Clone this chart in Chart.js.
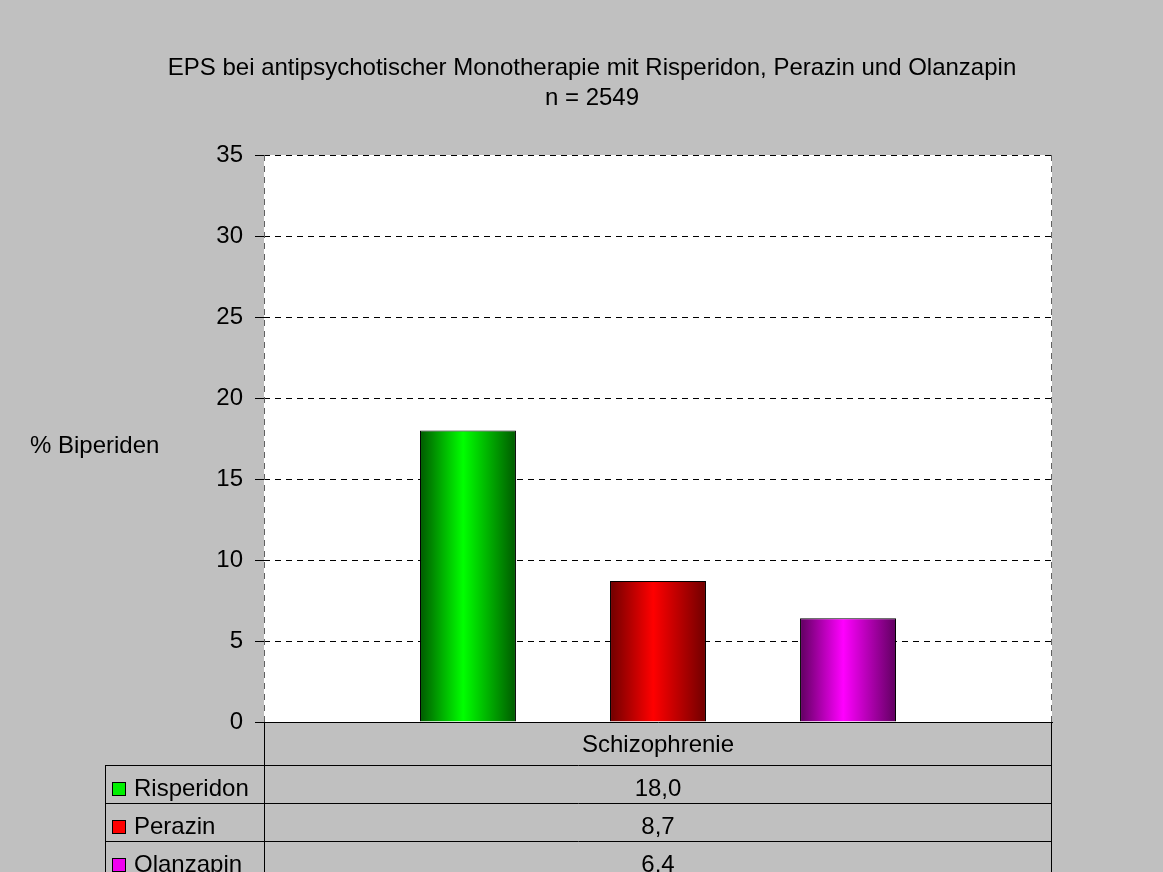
<!DOCTYPE html>
<html>
<head>
<meta charset="utf-8">
<title>EPS bei antipsychotischer Monotherapie</title>
<script src="https://cdn.jsdelivr.net/npm/chart.js@4.4.1/dist/chart.umd.min.js"></script>
<style>
  html, body { margin: 0; padding: 0; background: #c0c0c0; }
  #wrap { width: 1163px; height: 872px; position: relative; }
</style>
</head>
<body>
<div id="wrap"><canvas id="chart" width="1163" height="872"></canvas></div>
<script>
// Data
const titleLines = ['EPS bei antipsychotischer Monotherapie mit Risperidon, Perazin und Olanzapin', 'n = 2549'];
const categories = ['Schizophrenie'];
const seriesNames = ['Risperidon', 'Perazin', 'Olanzapin'];
const risperidon = [18.0];
const perazin = [8.7];
const olanzapin = [6.4];
const yTicks = [0, 5, 10, 15, 20, 25, 30, 35];
const yAxisLabel = '% Biperiden';

// Bar colours: dark edge, bright centre
const palette = [
  { dark: '#005a00', bright: '#00ff00', swatch: '#00f000' },
  { dark: '#700000', bright: '#ff0000', swatch: '#ff0000' },
  { dark: '#600060', bright: '#ff00ff', swatch: '#f000f0' }
];

const FONT = '"Liberation Sans", Arial, sans-serif';
const FONT_SIZE = 24;
const CAT_PCT = 0.7234;
const BAR_PCT = 0.505;

function barGradient(ctx) {
  const chart = ctx.chart;
  const xs = chart.scales.x;
  const c = palette[ctx.datasetIndex];
  if (!xs || !chart.chartArea) return c.bright;
  const n = chart.data.datasets.length;
  const center = xs.getPixelForValue(ctx.dataIndex);
  const catW = (xs.width / categories.length) * CAT_PCT;
  const slot = catW / n;
  const barW = slot * BAR_PCT;
  const cx = center - catW / 2 + slot * (ctx.datasetIndex + 0.5);
  const g = chart.ctx.createLinearGradient(cx - barW / 2, 0, cx + barW / 2, 0);
  g.addColorStop(0, c.dark);
  g.addColorStop(0.45, c.bright);
  g.addColorStop(1, c.dark);
  return g;
}

const seriesValues = [risperidon, perazin, olanzapin];
const datasets = seriesNames.map((name, i) => ({
  label: name,
  data: seriesValues[i],
  backgroundColor: barGradient,
  borderColor: '#000000',
  borderWidth: 1,
  categoryPercentage: CAT_PCT,
  barPercentage: BAR_PCT
}));

// Frame, title, axis label and data table
const decor = {
  id: 'decor',
  beforeDraw(chart) {
    const { ctx, chartArea: a } = chart;
    ctx.save();
    ctx.fillStyle = '#c0c0c0';
    ctx.fillRect(0, 0, chart.width, chart.height);
    ctx.fillStyle = '#ffffff';
    ctx.fillRect(a.left, a.top, a.right - a.left, a.bottom - a.top);
    ctx.restore();
  },
  beforeDatasetsDraw(chart) {
    const { ctx, chartArea: a } = chart;
    ctx.save();
    ctx.lineWidth = 1;
    ctx.setLineDash([6, 5]);
    ctx.strokeStyle = '#606060';
    ctx.beginPath();
    ctx.moveTo(a.right - 0.5, a.top);
    ctx.lineTo(a.right - 0.5, a.bottom);
    ctx.moveTo(a.left + 0.5, a.top);
    ctx.lineTo(a.left + 0.5, a.bottom);
    ctx.stroke();
    ctx.restore();
  },
  afterDraw(chart) {
    const { ctx, chartArea: a } = chart;
    const xs = chart.scales.x;
    ctx.save();
    ctx.fillStyle = '#000000';
    ctx.font = FONT_SIZE + 'px ' + FONT;
    ctx.textBaseline = 'alphabetic';

    // title
    ctx.textAlign = 'center';
    ctx.fillText(titleLines[0], 592, 75);
    ctx.fillText(titleLines[1], 592, 105);

    // y axis label
    ctx.textAlign = 'left';
    ctx.fillText(yAxisLabel, 30, 453);

    // data table
    const left = 105;
    const headerBottom = a.bottom + 43;
    const rowH = 38;
    ctx.strokeStyle = '#000000';
    ctx.lineWidth = 1;
    ctx.setLineDash([]);
    ctx.beginPath();
    ctx.moveTo(a.left + 0.5, a.bottom);
    ctx.lineTo(a.left + 0.5, chart.height);
    ctx.moveTo(a.right - 0.5, a.bottom);
    ctx.lineTo(a.right - 0.5, chart.height);
    ctx.moveTo(left + 0.5, headerBottom);
    ctx.lineTo(left + 0.5, chart.height);
    for (let r = 0; r <= seriesNames.length; r++) {
      const y = Math.round(headerBottom + r * rowH) + 0.5;
      if (y > chart.height) break;
      ctx.moveTo(left, y);
      ctx.lineTo(a.right, y);
    }
    ctx.stroke();

    // header row: category names
    ctx.textAlign = 'center';
    categories.forEach((cat, ci) => {
      ctx.fillText(cat, xs.getPixelForValue(ci), a.bottom + 30);
    });

    // series rows
    seriesNames.forEach((name, i) => {
      const base = headerBottom + i * rowH + 31;
      const c = palette[i];
      ctx.fillStyle = c.swatch;
      ctx.fillRect(112, base - 14, 14, 14);
      ctx.strokeStyle = '#000000';
      ctx.lineWidth = 1;
      ctx.strokeRect(112.5, base - 13.5, 13, 13);
      ctx.fillStyle = '#000000';
      ctx.textAlign = 'left';
      ctx.fillText(name, 134, base);
      ctx.textAlign = 'center';
      categories.forEach((cat, ci) => {
        const v = seriesValues[i][ci];
        ctx.fillText(v.toFixed(1).replace('.', ','), xs.getPixelForValue(ci), base);
      });
    });
    ctx.restore();
  }
};

new Chart(document.getElementById('chart'), {
  type: 'bar',
  data: { labels: categories, datasets },
  plugins: [decor],
  options: {
    responsive: false,
    animation: false,
    events: [],
    layout: { padding: { left: 0, top: 155, right: 111, bottom: 150 } },
    plugins: {
      legend: { display: false },
      title: { display: false },
      tooltip: { enabled: false }
    },
    scales: {
      x: {
        ticks: { display: false },
        grid: { display: false },
        border: { display: true, color: '#000000', width: 1 },
        afterFit(scale) { scale.height = 0; }
      },
      y: {
        min: 0,
        max: 35,
        afterFit(scale) { scale.width = 264; },
        afterBuildTicks(scale) { scale.ticks = yTicks.map(v => ({ value: v })); },
        ticks: {
          color: '#000000',
          font: { family: FONT, size: FONT_SIZE },
          padding: 12
        },
        grid: {
          color: '#000000',
          lineWidth: 1,
          drawTicks: true,
          tickLength: 9,
          tickColor: '#000000',
          tickBorderDash: [],
          borderDash: [6, 5]
        },
        border: { display: false, dash: [6, 5] }
      }
    }
  }
});
</script>
</body>
</html>
